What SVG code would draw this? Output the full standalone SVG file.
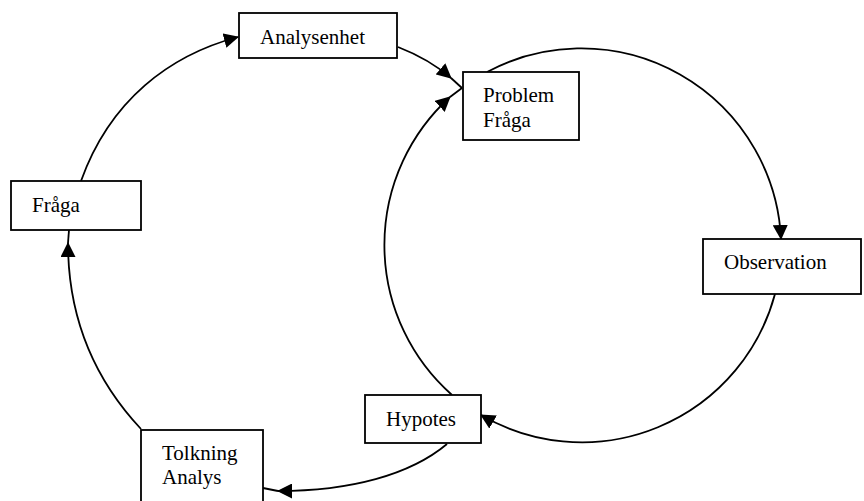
<svg xmlns="http://www.w3.org/2000/svg" width="864" height="501" viewBox="0 0 864 501">
<style>
.box{fill:#fff;stroke:#000;stroke-width:1.8}
.c{fill:none;stroke:#000;stroke-width:1.8}
.a{marker-end:url(#ah)}
text{font-family:"Liberation Serif","Times New Roman",Times,"DejaVu Serif",serif;font-size:21px;fill:#000}
</style>
<defs>
<marker id="ah" markerUnits="userSpaceOnUse" markerWidth="15" markerHeight="15" viewBox="0 0 15 15" refX="14" refY="7.5" orient="auto">
<path d="M0,0 L15,7.5 L0,15 z" fill="#000"/>
</marker>
</defs>
<rect width="864" height="501" fill="#fff"/>
<g id="connectors">
<path class="c a" d="M81,181 C110,100 170,55 238,37"/>
<path class="c a" d="M141,429 C97,382 68,322 68,243"/>
<path class="c" d="M68,243 L69,230"/>
<path class="c a" d="M447,444 C410,475 350,491 278,491"/>
<path class="c" d="M278,491 L263,488"/>
<path class="c a" d="M398,47 C416,54 436,65 451,78"/>
<path class="c" d="M451,78 L462,88"/>
<path class="c a" d="M487,72 A200,200 0 0 1 781,239"/>
<path class="c a" d="M775,294 A200,200 0 0 1 481,415"/>
<path class="c a" d="M452,395 A200,200 0 0 1 450,97"/>
<path class="c" d="M450,97 L462,88"/>
</g>
<g id="analysenhet">
<rect class="box" x="239" y="13" width="158" height="45"/>
<text x="260" y="44" font-family="Liberation Serif, serif">Analysenhet</text>
</g>
<g id="problem">
<rect class="box" x="463" y="72" width="116" height="68"/>
<text x="483" y="102">Problem</text>
<text x="483" y="127">Fråga</text>
</g>
<g id="observation">
<rect class="box" x="703" y="239" width="158" height="55"/>
<text x="724" y="269">Observation</text>
</g>
<g id="hypotes">
<rect class="box" x="365" y="395" width="116" height="48"/>
<text x="386" y="426">Hypotes</text>
</g>
<g id="tolkning">
<rect class="box" x="141" y="430" width="122" height="80"/>
<text x="162" y="460">Tolkning</text>
<text x="162" y="484">Analys</text>
</g>
<g id="fraga">
<rect class="box" x="11" y="181" width="130" height="49"/>
<text x="32" y="212">Fråga</text>
</g>
</svg>
